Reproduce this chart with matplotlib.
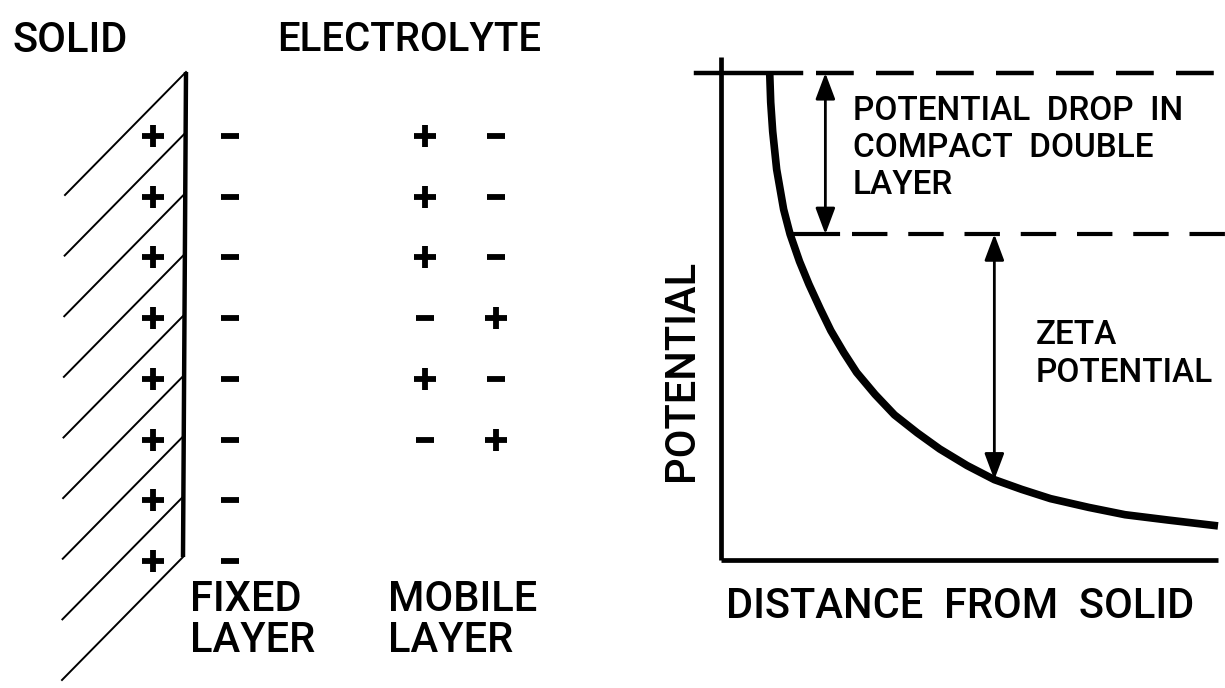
import matplotlib
matplotlib.use("Agg")
import matplotlib.pyplot as plt
import numpy as np

# ---------------- data ----------------
# left diagram: charges per row (8 rows)
solid_charges = ['+', '+', '+', '+', '+', '+', '+', '+']
fixed_charges = ['-', '-', '-', '-', '-', '-', '-', '-']
mobile_col1 = ['+', '+', '+', '-', '+', '-']
mobile_col2 = ['-', '-', '-', '+', '-', '+']
n_hatch = 9

# right diagram: potential vs distance (normalised units)
distance = [0.098, 0.100, 0.104, 0.112, 0.126, 0.139, 0.158, 0.177, 0.200, 0.221,
            0.247, 0.273, 0.310, 0.349, 0.395, 0.440, 0.495, 0.550, 0.605,
            0.663, 0.740, 0.813, 0.900, 1.000]
potential = [1.000, 0.940, 0.880, 0.802, 0.720, 0.669, 0.613, 0.566, 0.515, 0.471,
             0.426, 0.385, 0.340, 0.298, 0.261, 0.228, 0.194, 0.165, 0.145,
             0.126, 0.108, 0.093, 0.082, 0.070]
compact_level = 0.669    # potential at end of compact double layer
surface_level = 1.0
zeta_distance = 0.55

labels_left = ["SOLID", "ELECTROLYTE", "FIXED\nLAYER", "MOBILE\nLAYER"]
ann_compact = "POTENTIAL  DROP  IN\nCOMPACT  DOUBLE\nLAYER"
ann_zeta = "ZETA\nPOTENTIAL"
xlabel = "DISTANCE  FROM  SOLID"
ylabel = "POTENTIAL"

# ---------------- figure ----------------
W, H = 1225, 688
fig = plt.figure(figsize=(W / 100, H / 100), dpi=100)
fig.patch.set_facecolor("white")
FONT = "Roboto"

# overlay axes in pixel coordinates for left diagram and texts
ov = fig.add_axes([0, 0, 1, 1])
ov.set_xlim(0, W)
ov.set_ylim(H, 0)
ov.axis("off")

# wall
ov.plot([186, 183], [72, 557], color="black", lw=3.2, solid_capstyle="butt")
wall_top, wall_bot = 72, 557
hatch_tops = np.linspace(wall_top, wall_bot, n_hatch)
for yt in hatch_tops:
    xw = 186 + (183 - 186) * (yt - wall_top) / (wall_bot - wall_top)
    ov.plot([xw, xw - 121], [yt, yt + 123], color="black", lw=1.4)

rows = np.linspace(136, 561, len(solid_charges))
msize = {'+': 16, '-': 13}
marker = {'+': '+', '-': '_'}
def draw_sign(x, y, s):
    ov.plot([x], [y], marker=marker[s], color="black", markersize=msize[s], mew=4.2)

for y, s in zip(rows, solid_charges):
    draw_sign(153, y, s)
for y, s in zip(rows, fixed_charges):
    draw_sign(230, y, s)
for y, s in zip(rows, mobile_col1):
    draw_sign(425, y, s)
for y, s in zip(rows, mobile_col2):
    draw_sign(496, y, s)

big = dict(fontsize=30, family=FONT, color="black", fontweight="medium")
ov.text(12, 40, labels_left[0], ha="left", va="center", **big)
ov.text(277, 40, labels_left[1], ha="left", va="center",
        **{**big, "fontsize": 29})
ov.text(190, 620, labels_left[2], ha="left", va="center", linespacing=1.0, **big)
ov.text(388, 620, labels_left[3], ha="left", va="center", linespacing=1.0, **big)

# right diagram axes
x0, x1, yb, yt = 721, 1218, 560, 73
ax = fig.add_axes([x0 / W, 1 - yb / H, (x1 - x0) / W, (yb - yt) / H])
ax.set_xlim(0, 1)
ax.set_ylim(0, 1)
ax.axis("off")
ax.patch.set_alpha(0)

# axes lines
ax.plot([0, 0], [0, 1.033], color="black", lw=3.4, clip_on=False, solid_capstyle="butt")
ax.plot([0, 1], [0, 0], color="black", lw=3.4, clip_on=False, solid_capstyle="butt")
# curve
ax.plot(distance, potential, color="black", lw=5.5, clip_on=False, solid_capstyle="butt")
# surface level line
ax.plot([-0.05, 0.16], [surface_level, surface_level], color="black", lw=3.2, clip_on=False)
ax.plot([0.192, 1.02], [surface_level, surface_level], color="black", lw=3.2,
        dashes=(8.5, 5), clip_on=False)
# compact level line
ax.plot([distance[5], 0.235], [compact_level, compact_level], color="black", lw=3.0, clip_on=False)
ax.plot([0.264, 1.02], [compact_level, compact_level], color="black", lw=3.0,
        dashes=(8.5, 5), clip_on=False)

arrow = dict(arrowstyle="<|-|>,head_length=1.6,head_width=0.6", color="black", lw=2.0,
             shrinkA=0, shrinkB=0)
ax.annotate("", xy=(0.21, surface_level), xytext=(0.21, compact_level), arrowprops=arrow)
zeta_pot = float(np.interp(zeta_distance, distance, potential))
ax.annotate("", xy=(zeta_distance, compact_level), xytext=(zeta_distance, zeta_pot),
            arrowprops=arrow)

small = dict(fontsize=24, family=FONT, color="black", fontweight="medium")
ov.text(853, 148, ann_compact, ha="left", va="center", linespacing=1.2, **small)
ov.text(1036, 354, ann_zeta, ha="left", va="center", linespacing=1.2, **small)
ov.text(960, 607, xlabel, ha="center", va="center", **big)
ov.text(681, 370, ylabel, ha="center", va="center", rotation=90, **big)

fig.savefig("out.png", dpi=100, facecolor="white")
